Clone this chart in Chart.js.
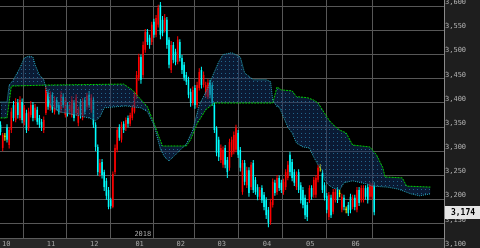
<!DOCTYPE html>
<html>
<head>
<meta charset="utf-8">
<script src="https://cdn.jsdelivr.net/npm/chart.js@4.4.1/dist/chart.umd.min.js"></script>
<style>
  html, body { margin: 0; padding: 0; background: #000; }
  canvas { display: block; }
</style>
</head>
<body>
<canvas id="grafico" width="480" height="248"></canvas>
<script>
// candles (dia a dia, out/2017 -> jun/2018)
const opens = [
  3355,3307,3330,3350,3313,3344,3396,3365,3400,3369,
  3402,3361,3379,3348,3375,3396,3369,3386,3369,3361,
  3344,3379,3421,3390,3417,3382,3406,3396,3386,3413,
  3375,3396,3382,3375,3400,3379,3359,3402,3369,3406,
  3392,3417,3386,3406,3355,3309,3255,3278,3257,3239,
  3220,3199,3185,3257,3303,3350,3324,3357,3348,3369,
  3357,3369,3382,3413,3452,3495,3458,3510,3547,3535,
  3526,3568,3541,3562,3603,3572,3551,3572,3531,3468,
  3520,3506,3485,3526,3493,3479,3458,3448,3423,3400,
  3431,3396,3431,3468,3437,3417,3413,3442,3437,3396,
  3348,3324,3282,3272,3307,3282,3266,3293,3299,3303,
  3338,3303,3216,3276,3230,3261,3226,3276,3241,3226,
  3206,3224,3210,3199,3179,3154,3189,3235,3216,3245,
  3235,3216,3226,3245,3293,3278,3257,3226,3257,3230,
  3220,3204,3189,3199,3224,3210,3210,3241,3266,3255,
  3230,3208,3164,3204,3175,3199,3220,3212,3179,3204,
  3179,3189,3206,3185,3204,3179,3220,3199,3199,3224,
  3226,3206,3206,3230
]
const highs = [
  3362,3338,3338,3356,3350,3390,3404,3410,3408,3414,
  3409,3396,3386,3390,3404,3402,3398,3392,3375,3367,
  3372,3436,3428,3424,3422,3414,3412,3402,3424,3420,
  3412,3402,3402,3414,3406,3418,3392,3408,3410,3412,
  3421,3425,3418,3413,3360,3314,3284,3284,3262,3245,
  3226,3204,3258,3314,3350,3356,3361,3362,3370,3374,
  3380,3396,3423,3466,3502,3500,3527,3553,3553,3541,
  3568,3574,3582,3603,3609,3580,3584,3578,3536,3528,
  3526,3512,3538,3532,3499,3485,3464,3454,3430,3434,
  3437,3444,3472,3475,3465,3444,3449,3448,3443,3402,
  3352,3330,3314,3310,3313,3288,3326,3330,3341,3355,
  3344,3309,3282,3282,3268,3267,3278,3282,3247,3232,
  3226,3230,3216,3205,3185,3202,3244,3241,3251,3250,
  3241,3243,3263,3280,3299,3284,3263,3258,3263,3236,
  3226,3210,3195,3230,3230,3247,3251,3272,3274,3262,
  3236,3214,3216,3210,3222,3222,3226,3220,3212,3210,
  3186,3195,3212,3210,3210,3226,3226,3230,3230,3230,
  3232,3236,3234,3236
]
const lows = [
  3333,3300,3322,3318,3306,3338,3362,3360,3368,3364,
  3358,3354,3338,3342,3370,3362,3364,3355,3348,3342,
  3338,3375,3386,3384,3380,3376,3385,3376,3380,3390,
  3370,3372,3376,3370,3362,3374,3352,3368,3364,3376,
  3386,3390,3380,3348,3300,3250,3248,3244,3218,3200,
  3180,3181,3182,3252,3298,3322,3318,3338,3342,3350,
  3352,3364,3378,3408,3446,3440,3452,3504,3520,3512,
  3520,3535,3536,3556,3532,3538,3546,3512,3472,3462,
  3482,3478,3480,3486,3460,3446,3437,3410,3392,3395,
  3388,3390,3426,3430,3432,3412,3408,3410,3394,3338,
  3290,3280,3276,3266,3265,3245,3260,3288,3294,3298,
  3286,3258,3210,3230,3224,3206,3220,3214,3210,3199,
  3200,3193,3178,3160,3143,3148,3184,3208,3210,3218,
  3214,3210,3220,3240,3250,3238,3228,3220,3214,3192,
  3182,3160,3156,3193,3200,3204,3204,3236,3258,3214,
  3198,3172,3158,3162,3170,3194,3193,3205,3174,3178,
  3172,3166,3172,3180,3178,3174,3187,3194,3194,3200,
  3192,3200,3200,3168
]
const closes = [
  3340,3334,3330,3324,3344,3382,3369,3402,3375,3406,
  3365,3390,3344,3382,3396,3369,3390,3361,3355,3350,
  3365,3427,3392,3417,3386,3406,3390,3382,3417,3396,
  3406,3379,3396,3406,3369,3411,3386,3375,3402,3382,
  3415,3396,3411,3355,3309,3257,3276,3251,3226,3208,
  3185,3187,3253,3307,3344,3328,3355,3344,3365,3357,
  3375,3390,3417,3458,3495,3448,3520,3547,3526,3520,
  3562,3541,3576,3597,3541,3545,3576,3520,3479,3520,
  3489,3485,3531,3493,3468,3452,3444,3417,3400,3427,
  3396,3437,3464,3437,3458,3437,3442,3417,3400,3344,
  3297,3288,3307,3303,3272,3257,3319,3324,3334,3348,
  3293,3266,3276,3237,3261,3214,3272,3220,3216,3206,
  3220,3199,3185,3168,3152,3195,3237,3214,3245,3224,
  3220,3237,3257,3272,3257,3245,3235,3251,3220,3199,
  3189,3168,3164,3224,3206,3241,3245,3266,3266,3220,
  3204,3179,3210,3168,3216,3216,3199,3212,3206,3185,
  3179,3172,3179,3204,3185,3220,3193,3224,3224,3206,
  3199,3230,3228,3174
]

// nuvem: [indice do dia, preco]
const nuvemCiano = [
  [0,3402],[3,3402],[4,3437],[6,3448],[9,3473],[11,3493],[13,3497],[15,3495],[16,3479],[18,3458],
  [20,3448],[21,3431],[23,3396],[27,3382],[35,3375],[41,3369],[44,3363],[46,3371],[48,3390],[58,3394],
  [61,3392],[65,3390],[68,3382],[71,3355],[74,3305],[76,3288],[78,3280],[81,3293],[86,3315],[89,3344],
  [92,3396],[96,3431],[98,3454],[101,3485],[103,3500],[107,3504],[111,3495],[113,3462],[117,3448],[123,3448],
  [125,3444],[126,3406],[128,3392],[129,3392],[131,3371],[133,3350],[135,3338],[137,3317],[140,3309],[143,3307],
  [145,3288],[147,3272],[149,3261],[150,3241],[152,3230],[154,3224],[157,3220],[159,3235],[163,3239],[170,3232],
  [172,3228],[179,3226],[184,3222],[190,3212],[194,3208],[199,3212]
]
const nuvemVerde = [
  [0,3369],[3,3369],[5,3435],[21,3437],[57,3439],[61,3427],[68,3392],[71,3359],[73,3334],[75,3311],
  [86,3311],[88,3324],[91,3357],[95,3386],[99,3400],[126,3400],[128,3433],[130,3427],[135,3425],[137,3413],
  [142,3411],[145,3406],[147,3400],[149,3386],[152,3365],[154,3355],[157,3344],[160,3338],[163,3313],[171,3309],
  [174,3293],[177,3266],[178,3247],[186,3245],[188,3228],[199,3226]
]

// primeiro dia de cada mes
const inicioMes = [0, 21, 41, 62, 81, 100, 121, 141, 162]
const nomesMes = ['10', '11', '12', '01', '02', '03', '04', '05', '06']

const canvas = document.getElementById('grafico')
const ctx = canvas.getContext('2d')

// padrao pontilhado da nuvem
const pc = document.createElement('canvas')
pc.width = 4
pc.height = 4
const pctx = pc.getContext('2d')
pctx.fillStyle = 'rgba(20,52,104,0.5)'
pctx.fillRect(0, 0, 4, 4)
pctx.fillStyle = 'rgba(36,110,150,0.9)'
pctx.fillRect(1, 1, 1, 1)
const padraoNuvem = ctx.createPattern(pc, 'repeat')

const cores = opens.map((o, i) => closes[i] > o ? '#ff0000' : (closes[i] < o ? '#00ffff' : '#ffff00'))

const semPadding = s => {
  s.paddingTop = 0
  s.paddingBottom = 0
  s.paddingLeft = 0
  s.paddingRight = 0
}

const decoracao = {
  id: 'decoracao',
  beforeDraw(chart) {
    const c = chart.ctx
    c.save()
    c.fillStyle = '#000'
    c.fillRect(0, 0, chart.width, chart.height)
    c.fillStyle = '#1e1e1e'
    c.fillRect(chart.chartArea.right, 0, chart.width - chart.chartArea.right, chart.height)
    c.restore()
  },
  afterDraw(chart) {
    const c = chart.ctx
    const area = chart.chartArea
    const sx = chart.scales.x
    const sy = chart.scales.y
    c.save()
    // faixa do eixo x
    c.fillStyle = '#272727'
    c.fillRect(0, 239, area.right, chart.height - 239)
    c.fillStyle = '#5c5c5c'
    c.fillRect(0, 238, area.right, 1)
    c.font = '7px "DejaVu Sans Mono"'
    c.fillStyle = '#a8a8a8'
    c.textBaseline = 'middle'
    inicioMes.forEach((m, k) => {
      const px = Math.max(sx.getPixelForValue(m - 0.5) + 2, 2)
      c.fillText(nomesMes[k], px, 244)
    })
    c.fillText('2018', sx.getPixelForValue(inicioMes[3] - 0.5) + 1, 234)
    // ultimo preco
    const ultimo = closes[closes.length - 1]
    const py = Math.round(sy.getPixelForValue(ultimo))
    c.fillStyle = '#e6e6e6'
    c.fillRect(area.right + 1, py - 6, 35, 13)
    c.fillStyle = '#000'
    c.font = 'bold 8px "DejaVu Sans Mono"'
    c.textAlign = 'center'
    c.fillText(ultimo.toLocaleString('en-US'), area.right + 19, py + 0.5)
    c.restore()
  }
}

new Chart(canvas, {
  type: 'bar',
  data: {
    datasets: [
      {
        type: 'line',
        data: nuvemCiano.map(p => ({ x: p[0], y: p[1] })),
        borderColor: '#27a9bd',
        borderWidth: 1,
        borderDash: [1, 1],
        pointRadius: 0,
        tension: 0,
        fill: false,
        order: 0
      },
      {
        type: 'line',
        data: nuvemVerde.map(p => ({ x: p[0], y: p[1] })),
        borderColor: '#00d000',
        borderWidth: 1,
        borderDash: [2, 1],
        pointRadius: 0,
        tension: 0,
        fill: '-1',
        backgroundColor: padraoNuvem,
        order: 0
      },
      {
        data: lows.map((l, i) => ({ x: i, y: [l, highs[i]] })),
        backgroundColor: cores,
        borderWidth: 0,
        grouped: false,
        maxBarThickness: 1,
        inflateAmount: 0,
        order: 2
      },
      {
        data: opens.map((o, i) => ({ x: i, y: [o, closes[i]] })),
        backgroundColor: cores,
        borderWidth: 0,
        grouped: false,
        maxBarThickness: 2,
        minBarLength: 1,
        inflateAmount: 0,
        order: 1
      }
    ]
  },
  options: {
    responsive: false,
    devicePixelRatio: 1,
    animation: false,
    layout: { padding: 0 },
    plugins: { legend: { display: false }, tooltip: { enabled: false } },
    scales: {
      x: {
        type: 'linear',
        min: -0.25,
        max: 205.3,
        offset: false,
        afterBuildTicks: s => { s.ticks = inicioMes.slice(1).map(m => ({ value: m - 0.5 })) },
        ticks: { display: false },
        grid: { color: '#575757', drawTicks: false },
        border: { display: false },
        afterFit: s => { s.height = 0; semPadding(s) }
      },
      y: {
        position: 'right',
        min: 3100,
        max: 3613,
        afterBuildTicks: s => { s.ticks = s.ticks.filter(t => t.value % 50 === 0) },
        ticks: {
          stepSize: 50,
          includeBounds: false,
          color: '#b0b0b0',
          font: { family: 'DejaVu Sans Mono', size: 7 },
          padding: 1,
          labelOffset: -4,
          callback: v => v.toLocaleString('en-US')
        },
        grid: { color: '#575757', drawTicks: false },
        border: { color: '#8a8a8a' },
        afterFit: s => { s.width = 36; semPadding(s) }
      }
    }
  },
  plugins: [decoracao]
})
</script>
</body>
</html>
